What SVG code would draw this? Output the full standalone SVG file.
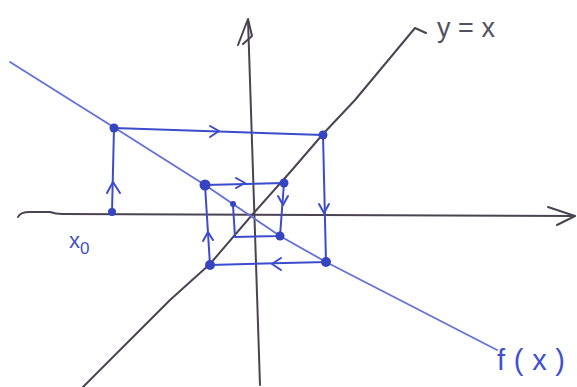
<svg xmlns="http://www.w3.org/2000/svg" width="577" height="387" viewBox="0 0 577 387">
<style>
.axis{fill:none;stroke:#4a4452;stroke-width:2;stroke-linecap:round;stroke-linejoin:round}
.f{fill:none;stroke:#6470dc;stroke-width:1.8;stroke-linecap:round}
.cw{fill:none;stroke:#3d4ccc;stroke-width:2;stroke-linecap:round;stroke-linejoin:round}
.dot{fill:#3544bf}
.lbl{font-family:"Liberation Sans",Arial,sans-serif;fill:#4050d0}
</style>
<rect width="577" height="387" fill="#ffffff"/>
<g id="axes">
<path class="axis" d="M18,217 Q20,212 30,212 L50,212 Q56,214 62,214 L575,216"/>
<path class="axis" d="M548,207 L575,216 L557,225"/>
<path class="axis" d="M248,20 L260,385"/>
<path class="axis" d="M238,45 L248,19 L252,36 L243,44"/>
</g>
<g id="line-y-eq-x">
<path class="axis" d="M83,387 L170,300 L210,264 L252,215 L292,170 L323,134 L355,100 L415,28 L426,33"/>
<text x="437" y="37" font-family="Liberation Sans,Arial,sans-serif" font-size="27" fill="#555060" textLength="58" lengthAdjust="spacing">y=x</text>
</g>
<g id="line-fx">
<path class="f" d="M10,62 L115,128 L205,185 L280,236 L326,262 L497,350"/>
<text class="lbl" x="497" y="370" font-size="29" textLength="68" lengthAdjust="spacing">f(x)</text>
</g>
<g id="connectors">
<path class="cw" d="M112,212 L114,128 L323,135 L326,262 L210,265 L205,185 L284,183 L280,236 L235,237 L233,205"/>
<path class="cw" d="M107,193 L113,182 L120,193"/>
<path class="cw" d="M210,126 L219,131 L210,137"/>
<path class="cw" d="M319,204 L324,213 L329,204"/>
<path class="cw" d="M281,258 L272,264 L281,270"/>
<path class="cw" d="M203,241 L208,232 L213,240"/>
<path class="cw" d="M236,178 L245,183 L236,188"/>
<path class="cw" d="M278,196 L283,205 L288,196"/>
</g>
<g id="points">
<circle class="dot" cx="112" cy="212" r="4"/>
<circle class="dot" cx="114" cy="128" r="4.5"/>
<circle class="dot" cx="323" cy="135" r="4.5"/>
<circle class="dot" cx="326" cy="262" r="5"/>
<circle class="dot" cx="210" cy="265" r="5"/>
<circle class="dot" cx="205" cy="185" r="5.5"/>
<circle class="dot" cx="284" cy="183" r="4.5"/>
<circle class="dot" cx="280" cy="236" r="4.5"/>
<circle class="dot" cx="233" cy="204" r="3"/>
</g>
<g id="label-x0">
<text class="lbl" x="69" y="248" font-size="22">x<tspan dy="6" font-size="17">0</tspan></text>
</g>
</svg>
